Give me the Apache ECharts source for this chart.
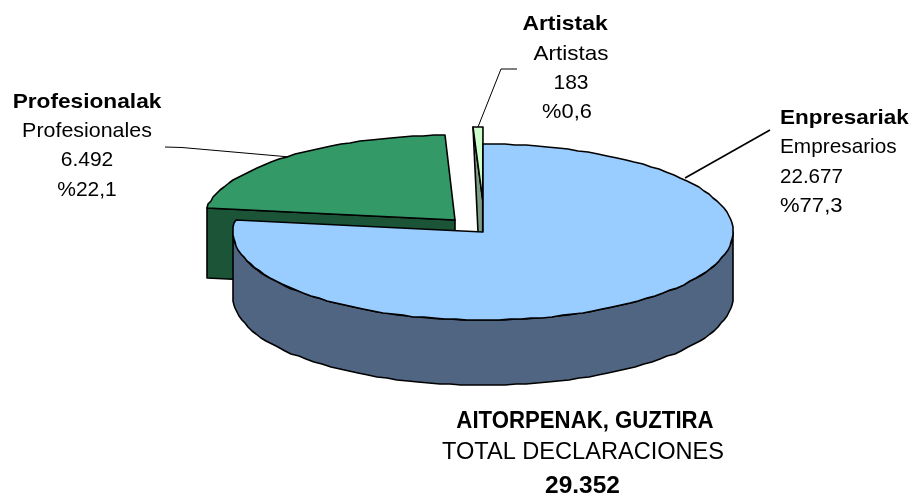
<!DOCTYPE html>
<html>
<head>
<meta charset="utf-8">
<style>html,body{margin:0;padding:0;background:#fff}#c{width:914px;height:496px}</style>
<script src="https://cdn.jsdelivr.net/npm/echarts@6/dist/echarts.min.js"></script>
</head>
<body>
<div id="c"></div>
<script>
// ---- data ----
const namesEu = ['Enpresariak', 'Profesionalak', 'Artistak'];
const namesEs = ['Empresarios', 'Profesionales', 'Artistas'];
const declarations = [22677, 6492, 183];
const percents = [77.3, 22.1, 0.6];
const totalEu = 'AITORPENAK, GUZTIRA';
const totalEs = 'TOTAL DECLARACIONES';

// ---- layout and style (not data) ----
const FONT = '"Liberation Sans", Arial, sans-serif';
const topColors = ['#99CCFF', '#339966', '#CCFFCC'];
const sideColors = ['#506582', '#1C5438', '#7C9E84'];
const sliceGeom = [
  { cx: 483, cy: 232, rx: 250, ry: 88, depth: 65, z: 30 },
  { cx: 455, cy: 220, rx: 251, ry: 85, depth: 70, z: 20 },
  { cx: 482.7, cy: 200, rx: 250, ry: 73, depth: 130, z: 10 }
];
const labelLayout = [
  { x: [780, 780, 780, 780], y: [118, 147, 177, 206], align: 'left', scale: [1.07, 0.99, 0.98, 1.05] },
  { x: [87, 87, 87, 87], y: [102, 131, 160, 190], align: 'center', scale: [1.08, 1.02, 1, 1] },
  { x: [565, 571, 571, 567], y: [24, 54, 83, 112], align: 'center', scale: [1.09, 1.07, 1, 1.04] }
];
const leaderLines = [
  { points: [[685, 178], [770, 130]], width: 1.6 },
  { points: [[165, 147], [182, 147.5], [290, 157]], width: 1 },
  { points: [[517, 69], [501, 69], [478, 127]], width: 1 }
];

const total = declarations.reduce((a, b) => a + b, 0);
const fmt = n => String(n).replace(/\B(?=(\d{3})+$)/g, '.');
const pct = p => '%' + String(p).replace('.', ',');
const rad = d => d * Math.PI / 180;
function pt(g, deg, dy) {
  return [Math.round(g.cx + g.rx * Math.sin(rad(deg))), Math.round(g.cy - g.ry * Math.cos(rad(deg))) + (dy || 0)];
}
function arc(g, from, to, dy) {
  const out = [], step = 2.5, n = Math.max(1, Math.ceil(Math.abs(to - from) / step));
  for (let i = 0; i <= n; i++) out.push(pt(g, from + (to - from) * i / n, dy));
  return out;
}
const baseStyle = c => ({ fill: c, stroke: '#000', lineWidth: 1.6, lineJoin: 'round' });

function renderSlice(params, api) {
  const i = params.dataIndex, g = sliceGeom[i];
  let start = 0;
  for (let k = 0; k < i; k++) start += declarations[k];
  const a0 = start / total * 360, a1 = (start + api.value(0)) / total * 360;
  const apex = [g.cx, g.cy], children = [];
  const poly = (points, fill, z2) => children.push({ type: 'polygon', z2, shape: { points }, style: baseStyle(fill) });
  if (i === 0) {
    const front = arc(g, 90, 270, 0).concat(arc(g, 270, 90, g.depth));
    poly(front, sideColors[i], g.z);
  } else if (i === 1) {
    const o = pt(g, a0);
    poly([o, apex, [apex[0], apex[1] + g.depth], [o[0], o[1] + g.depth]], sideColors[i], g.z);
  } else {
    const o = pt(g, a0);
    poly([o, apex, [apex[0], apex[1] + g.depth]], sideColors[i], g.z);
  }
  poly([apex].concat(arc(g, a0, a1)), topColors[i], g.z + 1);
  return { type: 'group', children };
}

const graphics = [];
const text = (x, y, t, bold, align, size, scaleX) => graphics.push({
  type: 'text', x, y, scaleX,
  style: { text: t, font: (bold ? 'bold ' : '') + size + 'px ' + FONT, fill: '#000', textAlign: align, textVerticalAlign: 'middle' }
});
namesEu.forEach((n, i) => {
  const L = labelLayout[i];
  [n, namesEs[i], fmt(declarations[i]), pct(percents[i])].forEach((t, k) => {
    text(L.x[k], L.y[k], t, k === 0, L.align, 21, L.scale[k]);
  });
});
text(585, 422, totalEu, true, 'center', 23, 0.965);
text(583, 453, totalEs, false, 'center', 23, 1.025);
text(582.5, 486, fmt(total), true, 'center', 24, 1.02);
leaderLines.forEach(l => graphics.push({
  type: 'polyline', shape: { points: l.points }, style: { fill: null, stroke: '#000', lineWidth: l.width }
}));

const chart = echarts.init(document.getElementById('c'));
chart.setOption({
  animation: false,
  backgroundColor: '#fff',
  graphic: { elements: graphics },
  series: [{
    type: 'custom',
    coordinateSystem: 'none',
    renderItem: renderSlice,
    data: declarations.map((v, i) => ({ name: namesEu[i], value: [v] }))
  }]
});
</script>
</body>
</html>
